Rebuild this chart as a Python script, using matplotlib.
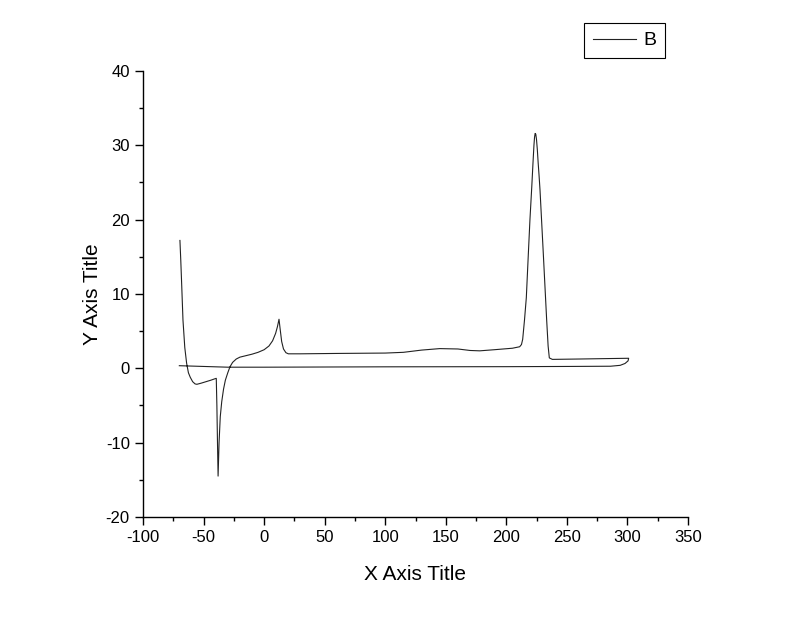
import matplotlib
matplotlib.use("Agg")
import matplotlib.pyplot as plt
import matplotlib.ticker as mticker

# curve B: heating run from -70 to 300, then the return baseline back to -70
x_heat = [-69.5, -68.8, -68.0, -67.0, -65.5, -64.0, -62.5, -61.0, -59.0, -57.0,
          -55.5, -52.0, -48.0, -44.0, -40.5, -39.5, -39.0, -38.5, -38.0, -37.2,
          -36.2, -35.0, -33.5, -32.0, -30.0, -28.2, -26.0, -23.0, -20.0, -15.0,
          -10.0, -5.0, 0.0, 4.0, 7.0, 9.5, 11.0, 12.3, 13.3, 14.5,
          16.0, 18.0, 20.0, 30.0, 60.0, 100.0, 115.0, 130.0, 145.0, 160.0,
          170.0, 178.0, 190.0, 205.0, 211.0, 212.5, 213.5, 215.0, 216.5, 218.2,
          219.5, 221.0, 222.0, 222.8, 223.3, 223.8, 224.3, 224.9, 225.6, 226.3,
          227.0, 227.8, 230.5, 233.3, 234.5, 235.5, 238.0, 260.0, 280.0, 301.0]
y_heat = [17.2, 14.5, 11.0, 6.5, 2.8, 0.7, -0.6, -1.2, -1.8, -2.1,
          -2.15, -2.0, -1.8, -1.6, -1.4, -1.35, -5.0, -10.0, -14.5, -10.0,
          -6.5, -4.5, -2.8, -1.6, -0.6, 0.2, 0.8, 1.25, 1.5, 1.7,
          1.9, 2.15, 2.5, 3.0, 3.7, 4.7, 5.6, 6.6, 5.2, 3.6,
          2.6, 2.1, 1.95, 1.95, 2.0, 2.05, 2.15, 2.45, 2.65, 2.6,
          2.4, 2.35, 2.5, 2.7, 2.9, 3.2, 3.9, 6.5, 9.5, 15.5,
          20.0, 24.4, 27.6, 30.0, 31.1, 31.6, 31.5, 30.8, 29.4, 27.6,
          26.0, 24.0, 15.5, 6.5, 3.0, 1.4, 1.2, 1.25, 1.3, 1.35]
x_cool = [300.5, 298.0, 294.0, 286.0, 250.0, 200.0, 100.0, 0.0, -30.0, -50.0, -70.0]
y_cool = [1.0, 0.65, 0.4, 0.28, 0.25, 0.22, 0.2, 0.15, 0.15, 0.25, 0.35]

x_b = x_heat + x_cool
y_b = y_heat + y_cool

plt.rcParams["font.family"] = ["Liberation Sans", "DejaVu Sans"]
plt.rcParams["axes.unicode_minus"] = False

fig = plt.figure(figsize=(8, 6.17), dpi=100)
ax = fig.add_axes([0.17875, 0.1621, 0.68125, 0.7229])

ax.plot(x_b, y_b, color="#222222", linewidth=0.8, label="B")

ax.set_xlim(-100, 350)
ax.set_ylim(-20, 40)
ax.xaxis.set_major_locator(mticker.MultipleLocator(50))
ax.xaxis.set_minor_locator(mticker.MultipleLocator(25))
ax.yaxis.set_major_locator(mticker.MultipleLocator(10))
ax.yaxis.set_minor_locator(mticker.MultipleLocator(5))

ax.spines["top"].set_visible(False)
ax.spines["right"].set_visible(False)
for s in ("left", "bottom"):
    ax.spines[s].set_linewidth(1.0)

ax.tick_params(which="major", direction="out", length=5.5, width=1.0,
               labelsize=12, pad=4)
ax.tick_params(which="minor", direction="out", length=3, width=1.0)

ax.set_xlabel("X Axis Title", fontsize=15, labelpad=14)
ax.set_ylabel("Y Axis Title", fontsize=15, labelpad=3)

leg = fig.legend(loc="upper left", bbox_to_anchor=(0.73, 0.9627),
                 fontsize=14, handlelength=2.2, frameon=True, fancybox=False,
                 edgecolor="black", framealpha=1, borderaxespad=0,
                 borderpad=0.45, handletextpad=0.4)
leg.get_frame().set_linewidth(0.8)

fig.savefig("out.png", dpi=100)
